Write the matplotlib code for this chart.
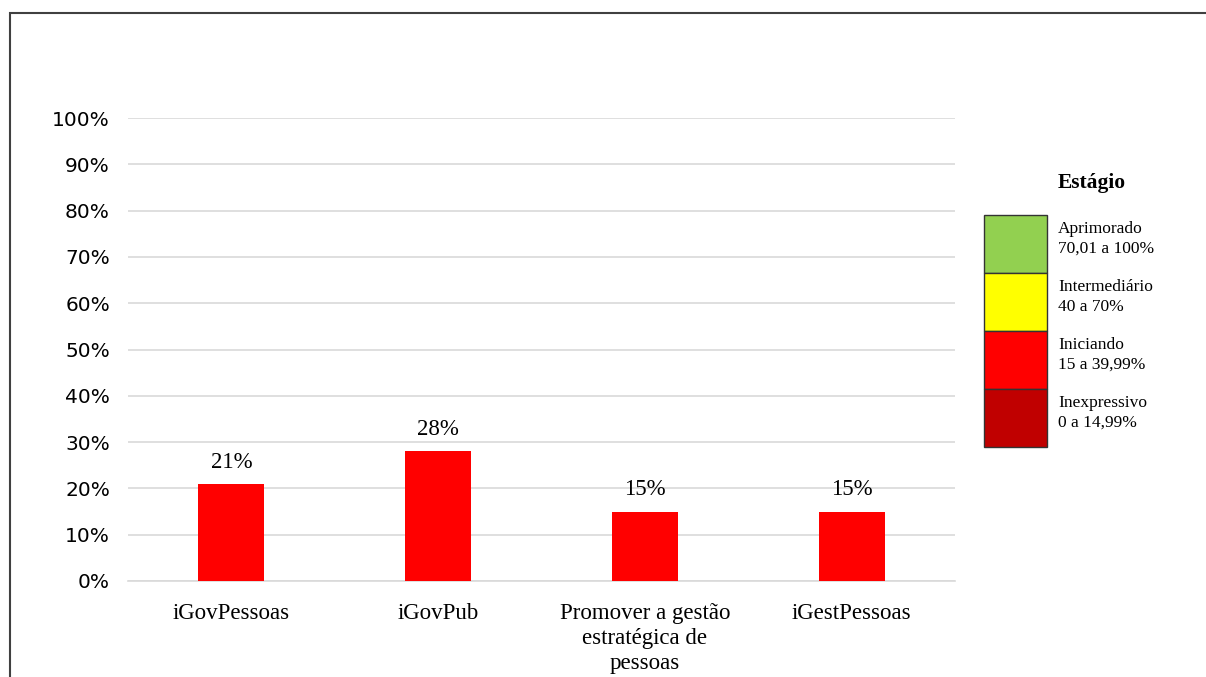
import matplotlib
matplotlib.use("Agg")
import matplotlib.pyplot as plt
from matplotlib.patches import Rectangle

plt.rcParams['font.family'] = ['Liberation Serif', 'DejaVu Serif']

# Data
categorias = ["iGovPessoas", "iGovPub", "Promover a gestão\nestratégica de\npessoas", "iGestPessoas"]
valores = [0.21, 0.28, 0.15, 0.15]
rotulos = ["21%", "28%", "15%", "15%"]
y_ticks = [0, 0.1, 0.2, 0.3, 0.4, 0.5, 0.6, 0.7, 0.8, 0.9, 1.0]
y_labels = ["0%", "10%", "20%", "30%", "40%", "50%", "60%", "70%", "80%", "90%", "100%"]

legenda_titulo = "Estágio"
legenda_textos = ["Aprimorado\n70,01 a 100%", "Intermediário\n40 a 70%",
                  "Iniciando\n15 a 39,99%", "Inexpressivo\n0 a 14,99%"]
legenda_cores = ["#92d050", "#ffff00", "#ff0000", "#c00000"]

W, H = 1206, 677
fig = plt.figure(figsize=(W / 100, H / 100), dpi=100)

# outer frame (cropped on right/bottom)
fig.patches.append(Rectangle((10 / W, -0.1), 1.2, 1 - 13 / H + 0.1, transform=fig.transFigure,
                             fill=False, edgecolor="#404040", linewidth=1.5))

ax = fig.add_axes([128 / W, 1 - 581 / H, (955 - 128) / W, (581 - 118) / H])
x = list(range(len(categorias)))
ax.bar(x, valores, width=0.32, color="#ff0000", zorder=3)
for xi, v, r in zip(x, valores, rotulos):
    ax.text(xi, v + 0.024, r, ha="center", va="bottom", fontsize=16.5)

ax.set_xlim(-0.5, len(categorias) - 0.5)
ax.set_ylim(0, 1.0)
ax.set_yticks(y_ticks)
ax.set_yticklabels(y_labels, fontsize=14.5, family="DejaVu Sans")
ax.set_xticks(x)
ax.set_xticklabels(categorias, fontsize=16.5, linespacing=1.25)
ax.tick_params(axis="y", length=0, pad=13)
ax.tick_params(axis="x", length=0, pad=16)
ax.yaxis.grid(True, color="#d9d9d9", linewidth=1.2, zorder=0)
for s in ["top", "right", "left"]:
    ax.spines[s].set_visible(False)
ax.spines["bottom"].set_color("#d9d9d9")
ax.spines["bottom"].set_linewidth(1.2)

# custom legend
fig.text(1058 / W, 1 - 183 / H, legenda_titulo, fontsize=15.5, fontweight="bold", va="center", ha="left")
box_top = 215
box_h = 58
for i, (t, c) in enumerate(zip(legenda_textos, legenda_cores)):
    y0 = box_top + i * box_h
    fig.patches.append(Rectangle((984 / W, 1 - (y0 + box_h) / H), 63 / W, box_h / H,
                                 transform=fig.transFigure, facecolor=c,
                                 edgecolor="#333333", linewidth=1))
    fig.text(1058 / W, 1 - (y0 + 24) / H, t, fontsize=12.5, va="center", ha="left",
             linespacing=1.35)

fig.savefig("out.png", dpi=100)
